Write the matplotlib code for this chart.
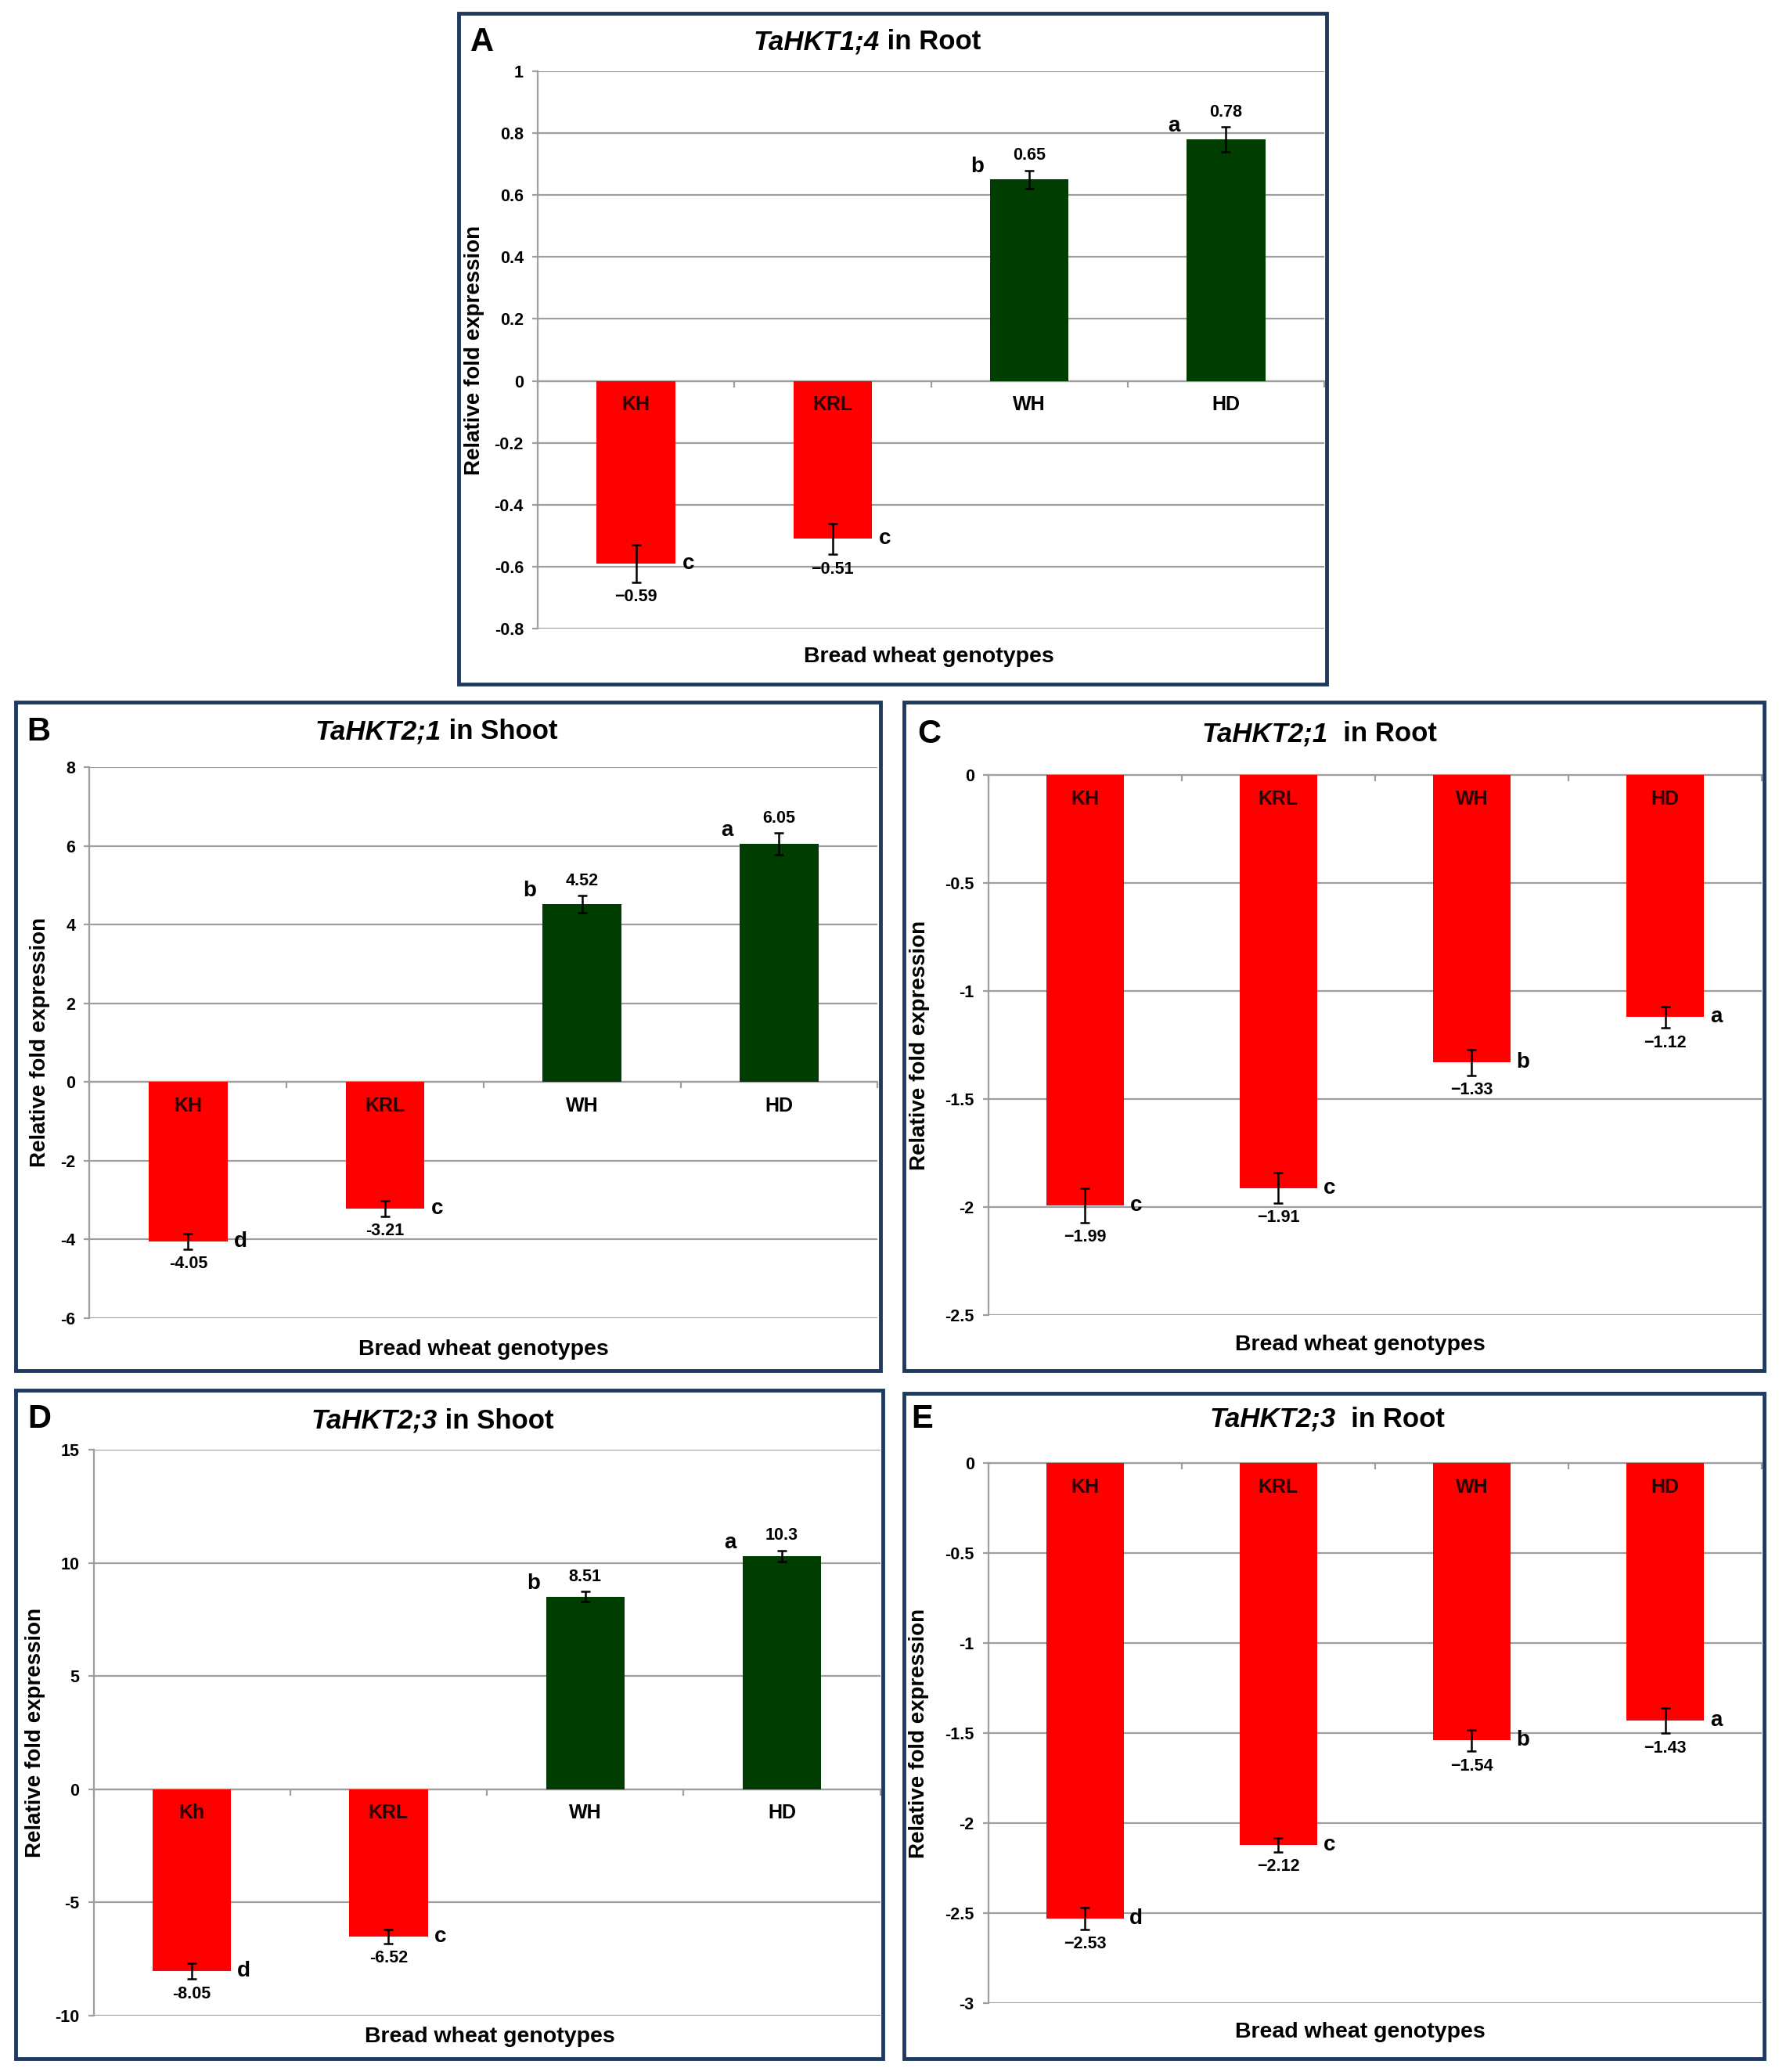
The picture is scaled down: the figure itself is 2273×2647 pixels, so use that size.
import matplotlib
matplotlib.use("Agg")
import matplotlib.pyplot as plt
from matplotlib.patches import Rectangle
import numpy as np

plt.rcParams['font.family'] = ['Liberation Sans', 'DejaVu Sans']
plt.rcParams['axes.unicode_minus'] = False

# ---- data ----
genotypes = ["KH", "KRL", "WH", "HD"]
genotypes_d = ["Kh", "KRL", "WH", "HD"]

a_values = [-0.59, -0.51, 0.65, 0.78]
a_errors = [0.06, 0.05, 0.03, 0.04]
a_letters = ["c", "c", "b", "a"]
a_ticks = [1, 0.8, 0.6, 0.4, 0.2, 0, -0.2, -0.4, -0.6, -0.8]
a_ticklabels = ["1", "0.8", "0.6", "0.4", "0.2", "0", "-0.2", "-0.4", "-0.6", "-0.8"]

b_values = [-4.05, -3.21, 4.52, 6.05]
b_errors = [0.2, 0.2, 0.22, 0.28]
b_letters = ["d", "c", "b", "a"]
b_ticks = [8, 6, 4, 2, 0, -2, -4, -6]
b_ticklabels = ["8", "6", "4", "2", "0", "-2", "-4", "-6"]

c_values = [-1.99, -1.91, -1.33, -1.12]
c_errors = [0.08, 0.07, 0.06, 0.05]
c_letters = ["c", "c", "b", "a"]
c_ticks = [0, -0.5, -1, -1.5, -2, -2.5]
c_ticklabels = ["0", "-0.5", "-1", "-1.5", "-2", "-2.5"]

d_values = [-8.05, -6.52, 8.51, 10.3]
d_errors = [0.35, 0.3, 0.22, 0.25]
d_letters = ["d", "c", "b", "a"]
d_ticks = [15, 10, 5, 0, -5, -10]
d_ticklabels = ["15", "10", "5", "0", "-5", "-10"]

e_values = [-2.53, -2.12, -1.54, -1.43]
e_errors = [0.06, 0.04, 0.06, 0.07]
e_letters = ["d", "c", "b", "a"]
e_ticks = [0, -0.5, -1, -1.5, -2, -2.5, -3]
e_ticklabels = ["0", "-0.5", "-1", "-1.5", "-2", "-2.5", "-3"]

RED = "#ff0000"
GREEN = "#003d00"
BORDER = "#1f3a5f"
GRID = "#9e9e9e"

W, H = 1350.0, 1572.0   # reference measured in these units


def fx(x):
  return x / W


def fy(y):
  return 1 - y / H


fig = plt.figure(figsize=(22.73, 26.47), dpi=100)
fig.patch.set_facecolor("white")
renderer = fig.canvas.get_renderer()


def two_part_title(xc, y, gene, rest, size=25):
  t1 = fig.text(0, fy(y), gene, style="italic", weight="bold", size=size,
                va="center", ha="left")
  t2 = fig.text(0, fy(y), rest, weight="bold", size=size, va="center", ha="left")
  w1 = t1.get_window_extent(renderer).width / fig.bbox.width
  w2 = t2.get_window_extent(renderer).width / fig.bbox.width
  x0 = fx(xc) - (w1 + w2) / 2
  t1.set_x(x0)
  t2.set_x(x0 + w1)


def panel(box, axbox, letter, letter_xy, gene, rest, title_xy, ylab_x, xlab_xy,
          names, values, errors, letters, ticks, ticklabels, minus):
  bl, br, bt, bb = box
  fig.patches.append(Rectangle((fx(bl), fy(bb)), fx(br - bl), (bb - bt) / H,
                               transform=fig.transFigure, fill=False,
                               edgecolor=BORDER, linewidth=3.5, zorder=0))
  al, ar, at, ab = axbox
  ax = fig.add_axes([fx(al), fy(ab), fx(ar - al), (ab - at) / H])
  x = np.arange(len(values))
  colors = [GREEN if v > 0 else RED for v in values]
  ax.bar(x, values, width=0.4, color=colors, zorder=3)
  ax.errorbar(x, values, yerr=errors, fmt="none", ecolor="black",
              elinewidth=1.8, capsize=4, capthick=1.8, zorder=4)
  ax.set_xlim(-0.5, len(values) - 0.5)
  ax.set_ylim(min(ticks), max(ticks))
  ax.set_yticks(ticks)
  ax.set_yticklabels(ticklabels, fontsize=15.5, fontweight="bold")
  ax.yaxis.grid(True, color=GRID, linewidth=1.6, zorder=0)
  ax.set_axisbelow(True)
  for s in ["top", "right"]:
    ax.spines[s].set_visible(False)
  ax.spines["left"].set_color(GRID)
  ax.spines["left"].set_linewidth(1.6)
  ax.spines["bottom"].set_position(("data", 0))
  ax.spines["bottom"].set_color(GRID)
  ax.spines["bottom"].set_linewidth(1.6)
  ax.set_xticks(np.arange(len(values) + 1) - 0.5)
  ax.set_xticklabels([])
  ax.tick_params(axis="x", length=6, color=GRID, width=1.6, direction="out")
  ax.tick_params(axis="y", length=5, color=GRID, width=1.6, pad=8)

  for i, (v, e, let, nm) in enumerate(zip(values, errors, letters, names)):
    inside = v < 0
    ax.annotate(nm, (i, 0), xytext=(0, -22), textcoords="offset points",
                ha="center", va="center", fontsize=18, fontweight="bold",
                color="#2a0000" if inside else "black", zorder=5)
    lab = ("%g" % v).replace("-", minus)
    if v > 0:
      ax.annotate(lab, (i, v + e), xytext=(0, 6), textcoords="offset points",
                  ha="center", va="bottom", fontsize=15.5, fontweight="bold")
      ax.annotate(let, (i - 0.265, v), xytext=(0, 12), textcoords="offset points",
                  ha="center", va="center", fontsize=20, fontweight="bold")
    else:
      ax.annotate(lab, (i, v - e), xytext=(0, -6), textcoords="offset points",
                  ha="center", va="top", fontsize=15.5, fontweight="bold")
      ax.annotate(let, (i + 0.265, v), xytext=(0, 0), textcoords="offset points",
                  ha="center", va="center", fontsize=20, fontweight="bold")

  fig.text(fx(ylab_x), fy((at + ab) / 2), "Relative fold expression", rotation=90,
           ha="center", va="center", fontsize=20, fontweight="bold")
  fig.text(fx(xlab_xy[0]), fy(xlab_xy[1]), "Bread wheat genotypes",
           ha="center", va="center", fontsize=20.5, fontweight="bold")
  fig.text(fx(letter_xy[0]), fy(letter_xy[1]), letter, ha="center", va="center",
           fontsize=30, fontweight="bold")
  two_part_title(title_xy[0], title_xy[1], gene, rest)
  return ax


panel((348, 1007, 10, 519), (408, 1005, 54, 477), "A", (366, 32),
      "TaHKT1;4", " in Root", (658, 32), 360, (705, 498),
      genotypes, a_values, a_errors, a_letters, a_ticks, a_ticklabels, "\u2212")

panel((12, 668, 533, 1040), (68, 666, 582, 1000), "B", (29, 555),
      "TaHKT2;1", " in Shoot", (331, 555), 30, (367, 1024),
      genotypes, b_values, b_errors, b_letters, b_ticks, b_ticklabels, "-")

panel((686, 1339, 533, 1040), (750, 1337, 588, 998), "C", (705, 557),
      "TaHKT2;1", "  in Root", (1001, 557), 698, (1032, 1020),
      genotypes, c_values, c_errors, c_letters, c_ticks, c_ticklabels, "\u2212")

panel((12, 670, 1055, 1562), (71, 668, 1100, 1529), "D", (30, 1077),
      "TaHKT2;3", " in Shoot", (328, 1078), 27, (372, 1545),
      genotypes_d, d_values, d_errors, d_letters, d_ticks, d_ticklabels, "-")

panel((686, 1339, 1057, 1562), (750, 1337, 1110, 1520), "E", (700, 1077),
      "TaHKT2;3", "  in Root", (1007, 1077), 697, (1032, 1542),
      genotypes, e_values, e_errors, e_letters, e_ticks, e_ticklabels, "\u2212")

fig.savefig("out.png", dpi=100, facecolor="white")
